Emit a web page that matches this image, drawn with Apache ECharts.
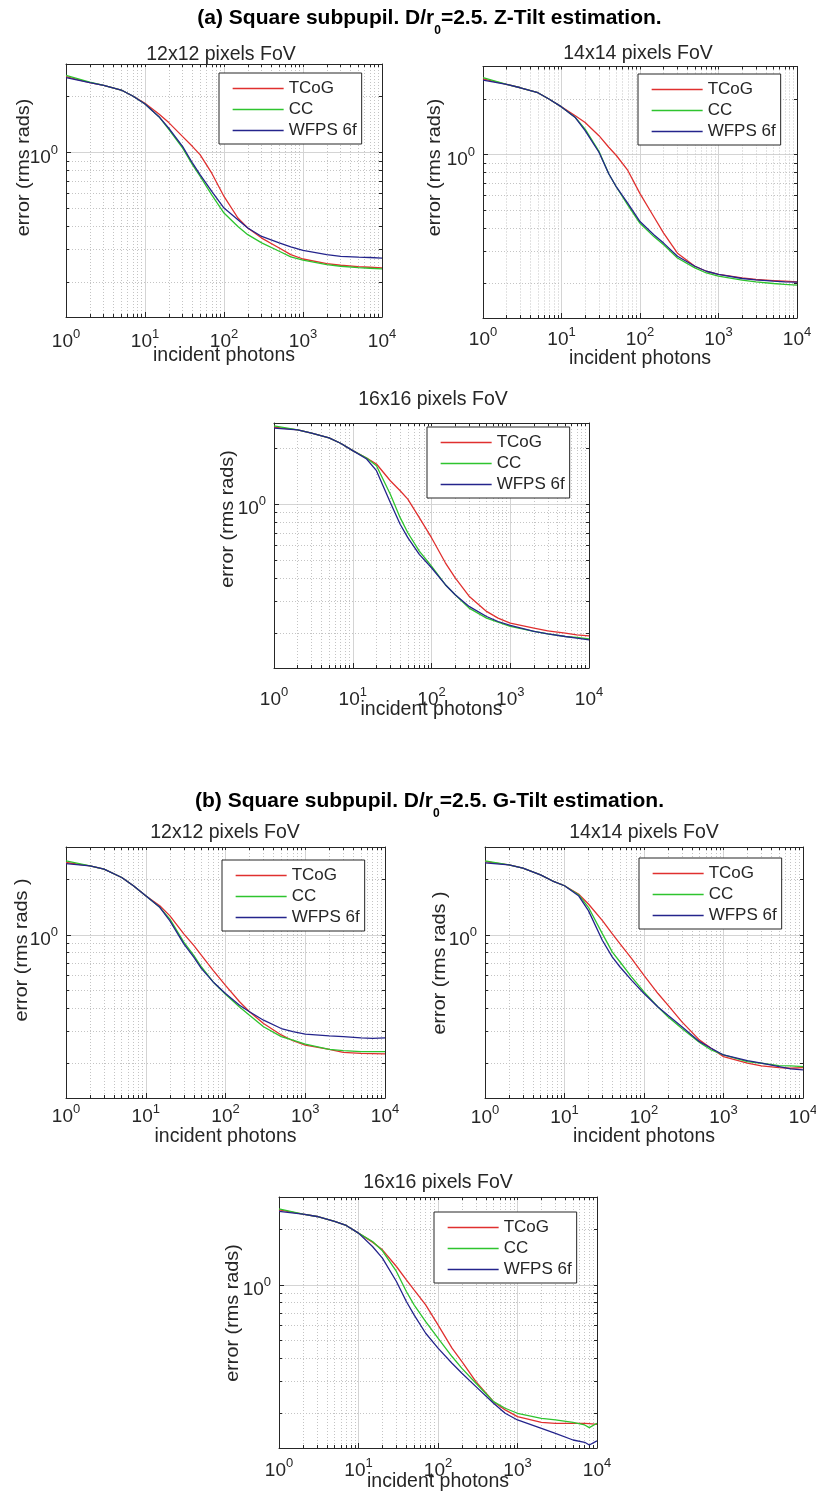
<!DOCTYPE html>
<html>
<head>
<meta charset="utf-8">
<script src="https://cdn.jsdelivr.net/npm/echarts@6/dist/echarts.min.js"></script>
<style>
  html, body { margin: 0; padding: 0; background: #ffffff; }
  #chart { width: 816px; height: 1499px; }
</style>
</head>
<body>
<div id="chart"></div>
<script>
// ---- x samples (incident photons) ----
const photons = [1, 2, 3, 5, 7, 10, 15, 20, 30, 40, 50, 70, 100, 150, 200, 300, 500, 700, 1000, 2000, 3000, 5000, 7000, 10000];
const photonsG16 = [1, 2, 3, 5, 7, 10, 15, 20, 30, 40, 50, 70, 100, 150, 200, 300, 500, 700, 1000, 2000, 3000, 5000, 7000, 8000, 10000];

const seriesNames = ['TCoG', 'CC', 'WFPS 6f'];

// ---- tick values ----
const xMajorTicks = [1, 10, 100, 1000, 10000];
const xMinorTicks = [2, 3, 4, 5, 6, 7, 8, 9, 20, 30, 40, 50, 60, 70, 80, 90,
                     200, 300, 400, 500, 600, 700, 800, 900, 2000, 3000, 4000, 5000, 6000, 7000, 8000, 9000];
const yMajorTicks = [1];
const yMinorTicks = [0.2, 0.3, 0.4, 0.5, 0.6, 0.7, 0.8, 0.9, 2, 3];

// ---- (a) Z-Tilt estimation, error in rms rads ----
const zTcog12 = [2.563, 2.379, 2.301, 2.172, 2.017, 1.842, 1.614, 1.450, 1.219, 1.077, 0.972, 0.774, 0.580, 0.444, 0.392, 0.346, 0.306, 0.282, 0.267, 0.252, 0.247, 0.243, 0.241, 0.239];
const zCc12   = [2.605, 2.399, 2.301, 2.172, 2.017, 1.827, 1.561, 1.335, 1.055, 0.858, 0.743, 0.592, 0.472, 0.400, 0.361, 0.326, 0.294, 0.274, 0.263, 0.249, 0.244, 0.240, 0.238, 0.236];
const zWfps12 = [2.531, 2.379, 2.301, 2.172, 2.017, 1.827, 1.561, 1.352, 1.077, 0.876, 0.759, 0.617, 0.502, 0.435, 0.392, 0.353, 0.326, 0.310, 0.297, 0.282, 0.276, 0.273, 0.272, 0.270];

const zTcog14 = [2.572, 2.399, 2.301, 2.163, 1.992, 1.812, 1.621, 1.492, 1.265, 1.095, 0.988, 0.820, 0.614, 0.460, 0.375, 0.292, 0.248, 0.233, 0.224, 0.2146, 0.2102, 0.2075, 0.2058, 0.2040];
const zCc14   = [2.615, 2.399, 2.301, 2.163, 1.992, 1.812, 1.587, 1.374, 1.040, 0.787, 0.667, 0.532, 0.424, 0.359, 0.324, 0.275, 0.243, 0.228, 0.219, 0.2084, 0.2040, 0.2000, 0.1976, 0.1960];
const zWfps14 = [2.531, 2.399, 2.301, 2.163, 1.992, 1.812, 1.587, 1.346, 1.029, 0.787, 0.667, 0.543, 0.433, 0.367, 0.331, 0.281, 0.248, 0.233, 0.224, 0.2128, 0.2093, 0.2058, 0.2042, 0.2033];

const zTcog16 = [2.610, 2.525, 2.421, 2.284, 2.137, 1.949, 1.778, 1.650, 1.339, 1.182, 1.065, 0.846, 0.659, 0.482, 0.399, 0.318, 0.263, 0.242, 0.2275, 0.2137, 0.2066, 0.2007, 0.1965, 0.1941];
const zCc16   = [2.653, 2.525, 2.421, 2.284, 2.137, 1.949, 1.778, 1.616, 1.133, 0.846, 0.701, 0.558, 0.462, 0.367, 0.324, 0.274, 0.242, 0.230, 0.2182, 0.2049, 0.1990, 0.1925, 0.1901, 0.1869];
const zWfps16 = [2.577, 2.525, 2.421, 2.284, 2.137, 1.949, 1.756, 1.518, 1.021, 0.779, 0.659, 0.535, 0.453, 0.367, 0.324, 0.280, 0.247, 0.232, 0.2209, 0.2049, 0.1990, 0.1925, 0.1885, 0.1846];

// ---- (b) G-Tilt estimation, error in rms rads ----
const gTcog12 = [2.471, 2.370, 2.274, 2.049, 1.848, 1.632, 1.440, 1.272, 1.012, 0.876, 0.773, 0.641, 0.532, 0.433, 0.382, 0.330, 0.286, 0.266, 0.252, 0.239, 0.230, 0.2274, 0.2265, 0.2255];
const gCc12   = [2.523, 2.370, 2.274, 2.049, 1.848, 1.632, 1.411, 1.220, 0.913, 0.773, 0.669, 0.555, 0.476, 0.406, 0.366, 0.317, 0.280, 0.268, 0.255, 0.239, 0.235, 0.232, 0.232, 0.232];
const gWfps12 = [2.440, 2.370, 2.274, 2.049, 1.848, 1.632, 1.411, 1.195, 0.894, 0.757, 0.655, 0.555, 0.480, 0.415, 0.382, 0.344, 0.310, 0.298, 0.289, 0.283, 0.280, 0.276, 0.274, 0.276];

const gTcog14 = [2.501, 2.400, 2.302, 2.119, 1.966, 1.848, 1.666, 1.471, 1.195, 1.012, 0.894, 0.742, 0.603, 0.480, 0.415, 0.337, 0.268, 0.242, 0.2182, 0.2008, 0.1942, 0.1902, 0.1886, 0.1902];
const gCc14   = [2.523, 2.400, 2.302, 2.119, 1.966, 1.848, 1.652, 1.411, 1.012, 0.806, 0.712, 0.590, 0.490, 0.406, 0.359, 0.310, 0.260, 0.237, 0.2227, 0.2049, 0.2008, 0.1950, 0.1942, 0.1926];
const gWfps14 = [2.460, 2.400, 2.302, 2.119, 1.966, 1.848, 1.632, 1.354, 0.932, 0.757, 0.669, 0.566, 0.480, 0.406, 0.366, 0.317, 0.263, 0.242, 0.2227, 0.2075, 0.2008, 0.1926, 0.1871, 0.1848];

const gTcog16 = [2.557, 2.421, 2.351, 2.209, 2.101, 1.909, 1.706, 1.550, 1.258, 1.065, 0.939, 0.779, 0.606, 0.453, 0.383, 0.298, 0.232, 0.2093, 0.1925, 0.1793, 0.1771, 0.1771, 0.1771, 0.1763, 0.1749];
const gCc16   = [2.588, 2.421, 2.351, 2.209, 2.101, 1.909, 1.720, 1.530, 1.182, 0.920, 0.779, 0.632, 0.513, 0.408, 0.352, 0.292, 0.232, 0.2137, 0.2007, 0.1885, 0.1846, 0.1793, 0.1734, 0.1677, 0.1771];
const gWfps16 = [2.504, 2.421, 2.351, 2.209, 2.101, 1.909, 1.616, 1.396, 1.043, 0.812, 0.687, 0.546, 0.453, 0.375, 0.331, 0.280, 0.2275, 0.2007, 0.1846, 0.1663, 0.1562, 0.1437, 0.1396, 0.1350, 0.1420];

// ---- styling ----
const FONT = "'Liberation Sans', Arial, Helvetica, sans-serif";
const INK = '#262626';
const GRID_MAJOR = '#d4d4d4';
const GRID_MINOR = '#c4c4c4';
const LINE_COLORS = ['#e0302f', '#2ec42e', '#24248c'];

// subplot frames and text anchors
const panels = [
  { title: '12x12 pixels FoV', x: photons, y: [zTcog12, zCc12, zWfps12], yMax: 3, yName: 'error (rms rads)',
    box: { left: 66, top: 64, width: 316, height: 253 }, legend: { left: 219, top: 73 },
    titleAt: [221, 55], xNameAt: [224, 356], yNameAt: [24, 167.5], xLabelMargin: 11 },
  { title: '14x14 pixels FoV', x: photons, y: [zTcog14, zCc14, zWfps14], yMax: 3, yName: 'error (rms rads)',
    box: { left: 483, top: 66.5, width: 314, height: 251.5 }, legend: { left: 638, top: 74 },
    titleAt: [638, 54], xNameAt: [640, 359], yNameAt: [435, 167.5], xLabelMargin: 8 },
  { title: '16x16 pixels FoV', x: photons, y: [zTcog16, zCc16, zWfps16], yMax: 2.75, yName: 'error (rms rads)',
    box: { left: 274, top: 423, width: 315, height: 245 }, legend: { left: 427, top: 427 },
    titleAt: [433, 400], xNameAt: [431.5, 710], yNameAt: [228, 519], xLabelMargin: 18 },
  { title: '12x12 pixels FoV', x: photons, y: [gTcog12, gCc12, gWfps12], yMax: 3, yName: 'error (rms rads )',
    box: { left: 66, top: 847, width: 319, height: 251 }, legend: { left: 222, top: 860 },
    titleAt: [225, 833], xNameAt: [225.5, 1137], yNameAt: [22, 950], xLabelMargin: 4.5 },
  { title: '14x14 pixels FoV', x: photons, y: [gTcog14, gCc14, gWfps14], yMax: 3, yName: 'error (rms rads )',
    box: { left: 485, top: 847, width: 318, height: 251 }, legend: { left: 639, top: 858 },
    titleAt: [644, 833], xNameAt: [644, 1137], yNameAt: [440, 963], xLabelMargin: 6 },
  { title: '16x16 pixels FoV', x: photonsG16, y: [gTcog16, gCc16, gWfps16], yMax: 3, yName: 'error (rms rads)',
    box: { left: 279, top: 1197, width: 318, height: 251 }, legend: { left: 434, top: 1212 },
    titleAt: [438, 1183], xNameAt: [438, 1482], yNameAt: [233, 1313], xLabelMargin: 9 }
];

// "10^n" labels for powers of ten only
function powerLabel(v) {
  const e = Math.round(Math.log10(v));
  const p = Math.pow(10, e);
  if (Math.abs(v - p) > 1e-6 * p) return '';
  return '{b|10}{s|' + e + '}';
}
const tickRich = {
  b: { fontSize: 19, lineHeight: 28, color: INK, fontFamily: FONT },
  s: { fontSize: 13, lineHeight: 13, verticalAlign: 'top', color: INK, fontFamily: FONT }
};

const option = {
  animation: false,
  backgroundColor: '#ffffff',
  grid: [], xAxis: [], yAxis: [], legend: [], series: [], graphic: []
};

function frameLine() { return { show: true, onZero: false, lineStyle: { color: INK, width: 1 } }; }

panels.forEach((p, i) => {
  option.grid.push({
    left: p.box.left, top: p.box.top, width: p.box.width, height: p.box.height,
    containLabel: false, outerBoundsMode: 'none', show: false
  });

  const xBase = option.xAxis.length;
  // bottom axis: labels, major ticks and major grid
  option.xAxis.push({
    gridIndex: i, type: 'log', logBase: 10, min: 1, max: 10000, position: 'bottom',
    axisLine: frameLine(),
    axisTick: { show: true, inside: true, length: 5, lineStyle: { color: INK } },
    axisLabel: { show: true, margin: p.xLabelMargin, formatter: powerLabel, rich: tickRich, hideOverlap: false },
    splitLine: { show: true, lineStyle: { color: GRID_MAJOR, width: 1, type: 'solid' } }
  });
  // bottom minor ticks and dotted minor grid
  option.xAxis.push({
    gridIndex: i, type: 'log', logBase: 10, min: 1, max: 10000, position: 'bottom',
    axisLine: { show: false }, axisLabel: { show: false },
    axisTick: { show: true, inside: true, length: 3, customValues: xMinorTicks, lineStyle: { color: INK } },
    splitLine: { show: true, lineStyle: { color: GRID_MINOR, width: 1, type: [1, 2] } }
  });
  // top frame edge
  option.xAxis.push({
    gridIndex: i, type: 'log', logBase: 10, min: 1, max: 10000, position: 'top',
    axisLine: frameLine(), axisLabel: { show: false },
    axisTick: { show: true, inside: true, length: 3, customValues: xMajorTicks.concat(xMinorTicks), lineStyle: { color: INK } },
    splitLine: { show: false }
  });

  const yBase = option.yAxis.length;
  option.yAxis.push({
    gridIndex: i, type: 'log', logBase: 10, min: 0.13, max: p.yMax, position: 'left',
    axisLine: frameLine(),
    axisTick: { show: true, inside: true, length: 5, customValues: yMajorTicks, lineStyle: { color: INK } },
    axisLabel: { show: true, margin: 8, formatter: powerLabel, rich: tickRich, padding: [10, 0, 0, 0],
                 showMinLabel: false, showMaxLabel: false, hideOverlap: false },
    splitLine: { show: true, lineStyle: { color: GRID_MAJOR, width: 1, type: 'solid' } }
  });
  option.yAxis.push({
    gridIndex: i, type: 'log', logBase: 10, min: 0.13, max: p.yMax, position: 'left',
    axisLine: { show: false }, axisLabel: { show: false },
    axisTick: { show: true, inside: true, length: 3, customValues: yMinorTicks, lineStyle: { color: INK } },
    splitLine: { show: true, lineStyle: { color: GRID_MINOR, width: 1, type: [1, 2] } }
  });
  option.yAxis.push({
    gridIndex: i, type: 'log', logBase: 10, min: 0.13, max: p.yMax, position: 'right',
    axisLine: frameLine(), axisLabel: { show: false },
    axisTick: { show: true, inside: true, length: 3, customValues: yMajorTicks.concat(yMinorTicks), lineStyle: { color: INK } },
    splitLine: { show: false }
  });

  seriesNames.forEach((name, k) => {
    option.series.push({
      name: name, type: 'line', xAxisIndex: xBase, yAxisIndex: yBase,
      data: p.x.map((xv, j) => [xv, p.y[k][j]]),
      symbol: 'none', smooth: false, z: 3 + k,
      itemStyle: { color: LINE_COLORS[k] },
      lineStyle: { color: LINE_COLORS[k], width: 1.3 },
      emphasis: { disabled: true }
    });
  });

  option.legend.push({
    left: p.legend.left, top: p.legend.top, orient: 'vertical', data: seriesNames,
    itemWidth: 51, itemHeight: 18, itemGap: 4, padding: [7, 5, 5, 13],
    borderColor: INK, borderWidth: 1, borderRadius: 0, backgroundColor: '#ffffff',
    selectedMode: false, z: 10,
    itemStyle: { opacity: 0 },
    lineStyle: { width: 1.3 },
    textStyle: { fontSize: 17, color: INK, fontFamily: FONT }
  });

  option.graphic.push(
    { type: 'text', x: p.titleAt[0], y: p.titleAt[1], z: 20,
      style: { text: p.title, fontSize: 19.5, fontFamily: FONT, fill: INK, align: 'center', verticalAlign: 'middle' } },
    { type: 'text', x: p.xNameAt[0], y: p.xNameAt[1], z: 20,
      style: { text: 'incident photons', fontSize: 19.5, fontFamily: FONT, fill: INK, align: 'center', verticalAlign: 'middle' } },
    // vertical axis title, slightly elongated along its reading direction
    { type: 'text', x: p.yNameAt[0], y: p.yNameAt[1], rotation: Math.PI / 2, scaleX: 1.1, scaleY: 1, z: 20,
      style: { text: p.yName, fontSize: 18, fontFamily: FONT, fill: INK, align: 'center', verticalAlign: 'middle' } }
  );
});

// figure headings with subscript r0
function heading(label, kind, yMid) {
  return {
    type: 'text', x: 429.5, y: yMid, z: 20,
    style: {
      text: '{m|' + label + ' Square subpupil. D/r}{u|0}{m|=2.5. ' + kind + ' estimation.}',
      align: 'center', verticalAlign: 'middle',
      rich: {
        m: { fontSize: 21, fontWeight: 'bold', fontFamily: FONT, color: '#111111', lineHeight: 37 },
        u: { fontSize: 12, fontWeight: 'bold', fontFamily: FONT, color: '#111111', lineHeight: 12, verticalAlign: 'bottom' }
      }
    }
  };
}
option.graphic.push(heading('(a)', 'Z-Tilt', 18), heading('(b)', 'G-Tilt', 801));

const chart = echarts.init(document.getElementById('chart'), null, { renderer: 'canvas' });
chart.setOption(option);
</script>
</body>
</html>
